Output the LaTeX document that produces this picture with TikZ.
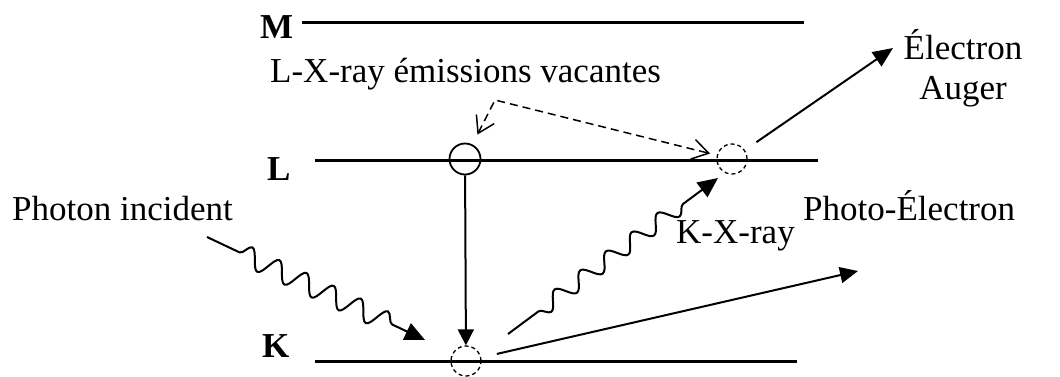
\documentclass[tikz,border=0pt]{standalone}
\usepackage{fontspec}
\setmainfont{Liberation Serif}
\usetikzlibrary{arrows.meta,decorations.pathmorphing}
\begin{document}
\begin{tikzpicture}[x=1pt,y=-1pt,
  level/.style={line width=3pt},
  lbl/.style={font=\fontsize{35}{40}\selectfont\bfseries,anchor=base west,inner sep=0},
  txt/.style={font=\fontsize{35}{40}\selectfont,anchor=base west,inner sep=0},
  arr/.style={line width=2pt,-{Triangle[length=20pt,width=17pt]}},
  wavy/.style={line width=2pt,-{Triangle[length=20pt,width=18pt]},decorate},
  dash arr/.style={line width=1.5pt,dash pattern=on 8pt off 5pt,
     {Straight Barb[length=16pt,width=20pt,line width=1.5pt]}-{Straight Barb[length=16pt,width=20pt,line width=1.5pt]}},
  hole/.style={circle,minimum size=31pt,inner sep=0,line width=1.8pt,draw},
  dhole/.style={circle,minimum size=30pt,inner sep=0,line width=1.3pt,draw,dash pattern=on 4pt off 3pt}]
\useasboundingbox (0,0) rectangle (1060,376);
% levels
\coordinate (m1) at (302,22); \coordinate (m2) at (804,22);
\coordinate (l1) at (315,160); \coordinate (l2) at (818,160);
\coordinate (k1) at (315,361); \coordinate (k2) at (797,361);
\draw[level] (m1) -- (m2);
\draw[level] (l1) -- (l2);
\draw[level] (k1) -- (k2);
\node[lbl] (lm) at (260,38) {M};
\node[lbl] (ll) at (267,180) {L};
\node[lbl] (lk) at (262,357) {K};
% holes
\node[hole] (vac) at (465,159) {};
\node[dhole] (kh) at (466,361) {};
\node[dhole] (lh) at (732,159) {};
% texts
\node[txt] (tlx) at (270,82) {L-X-ray émissions vacantes};
\node[txt] (tph) at (12,220) {Photon incident};
\node[txt] (tkx) at (676,243) {K-X-ray};
\node[txt] (tpe) at (803,220) {Photo-Électron};
\node[txt,anchor=base] (tea) at (963,59) {Électron};
\node[txt,anchor=base] (teb) at (963,99) {Auger};
% connectors
\coordinate (kink) at (495,100);
\draw[dash arr,shorten <=11pt,shorten >=7pt] (vac) -- (kink) -- (lh);
\draw[line width=2pt,-{Triangle[length=16pt,width=16pt]}] (vac) -- (kh);
\coordinate (augtip) at (893,48);
\draw[arr,shorten <=14pt] (lh) -- (augtip);
\coordinate (petip) at (858,271);
\draw[arr,-{Triangle[length=18pt,width=16pt]},shorten <=16pt] (kh) -- (petip);
\coordinate (phs) at (207,237);
\coordinate (pht) at (425,340);
\draw[wavy,decoration={snake,amplitude=10pt,segment length=30pt,pre length=36pt,post length=32pt}] (phs) -- (pht);
\coordinate (kxs) at (508,334);
\coordinate (kxt) at (718,178);
\draw[wavy,decoration={snake,mirror,amplitude=8pt,segment length=32pt,pre length=38pt,post length=30pt}] (kxs) -- (kxt);
\end{tikzpicture}
\end{document}
